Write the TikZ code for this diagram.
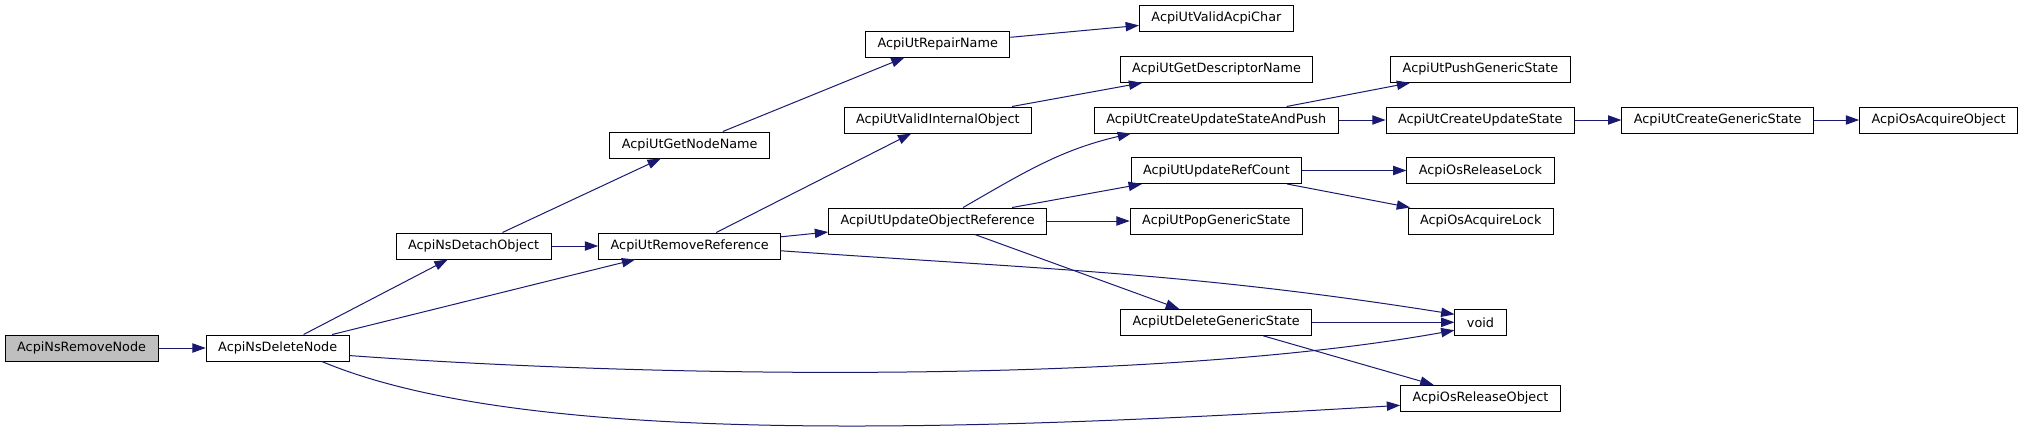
\documentclass[tikz,border=0pt]{standalone}
\usepackage{fontspec}
\setmainfont{DejaVu Sans}
\usepackage{xcolor}
\usepackage{tikz}
\usetikzlibrary{arrows.meta}
\definecolor{dgEdge}{HTML}{191970}
\definecolor{dgRoot}{HTML}{BFBFBF}
\tikzset{
  fn box/.style={draw=black, line width=0.75pt, fill=white,
    minimum height=19.5pt, inner xsep=9pt, inner ysep=0pt,
    font=\fontsize{9.6}{11}\selectfont},
  root box/.style={fn box, fill=dgRoot},
  call/.style={-{Triangle[length=10pt,width=7pt]}, line width=0.75pt,
    draw=dgEdge}
}

\begin{document}
\begin{tikzpicture}[x=0.75pt, y=0.75pt]
  \useasboundingbox (0,0) rectangle (2021,-429);
  \node[root box] (rmnode) at (81.6,-348) {AcpiNsRemoveNode};
  \node[fn box] (delnode) at (277.7,-348) {AcpiNsDeleteNode};
  \node[fn box] (detach) at (473.6,-246) {AcpiNsDetachObject};
  \node[fn box] (remref) at (689.7,-246) {AcpiUtRemoveReference};
  \node[fn box] (getname) at (689.7,-145) {AcpiUtGetNodeName};
  \node[fn box] (repair) at (937.7,-44) {AcpiUtRepairName};
  \node[fn box] (validchar) at (1216.4,-18.3) {AcpiUtValidAcpiChar};
  \node[fn box] (validint) at (937.8,-120) {AcpiUtValidInternalObject};
  \node[fn box] (getdesc) at (1216.5,-69.3) {AcpiUtGetDescriptorName};
  \node[fn box] (updref) at (937.7,-221) {AcpiUtUpdateObjectReference};
  \node[fn box] (cusp) at (1216.3,-120) {AcpiUtCreateUpdateStateAndPush};
  \node[fn box] (pushgs) at (1480.5,-69.3) {AcpiUtPushGenericState};
  \node[fn box] (cus) at (1480.3,-120) {AcpiUtCreateUpdateState};
  \node[fn box] (cgs) at (1717.7,-120) {AcpiUtCreateGenericState};
  \node[fn box] (acqobj) at (1938.6,-120) {AcpiOsAcquireObject};
  \node[fn box] (refcount) at (1216.4,-170.5) {AcpiUtUpdateRefCount};
  \node[fn box] (popgs) at (1216.4,-221) {AcpiUtPopGenericState};
  \node[fn box] (rellock) at (1480.5,-170.5) {AcpiOsReleaseLock};
  \node[fn box] (acqlock) at (1480.7,-221) {AcpiOsAcquireLock};
  \node[fn box] (delgs) at (1216.2,-322.3) {AcpiUtDeleteGenericState};
  \node[fn box] (void) at (1480.5,-322.3) {void};
  \node[fn box] (relobj) at (1480.5,-398.3) {AcpiOsReleaseObject};
  \draw[call] (rmnode) -- (delnode); \draw[call] (delnode) -- (detach);
  \draw[call] (delnode) -- (remref);
  \draw[call] (delnode.-6) .. controls +(301,-22) and +(-306,-55) .. (void.197);
  \draw[call] (delnode.-17) .. controls +(200,-84) and +(-451,-27) .. (relobj.185);
  \draw[call] (detach) -- (getname); \draw[call] (detach) -- (remref);
  \draw[call] (getname) -- (repair); \draw[call] (repair) -- (validchar);
  \draw[call] (remref) -- (validint); \draw[call] (remref) -- (updref);
  \draw[call] (remref.-3) to[out=-4, in=171] (void.163);
  \draw[call] (validint) -- (getdesc);
  \draw[call] (updref.28) to[out=30, in=193] (cusp.189);
  \draw[call] (updref) -- (refcount); \draw[call] (updref) -- (popgs);
  \draw[call] (updref) -- (delgs);
  \draw[call] (cusp) -- (pushgs); \draw[call] (cusp) -- (cus);
  \draw[call] (cus) -- (cgs); \draw[call] (cgs) -- (acqobj);
  \draw[call] (refcount) -- (rellock); \draw[call] (refcount) -- (acqlock);
  \draw[call] (delgs) -- (void); \draw[call] (delgs) -- (relobj);
\end{tikzpicture}
\end{document}
